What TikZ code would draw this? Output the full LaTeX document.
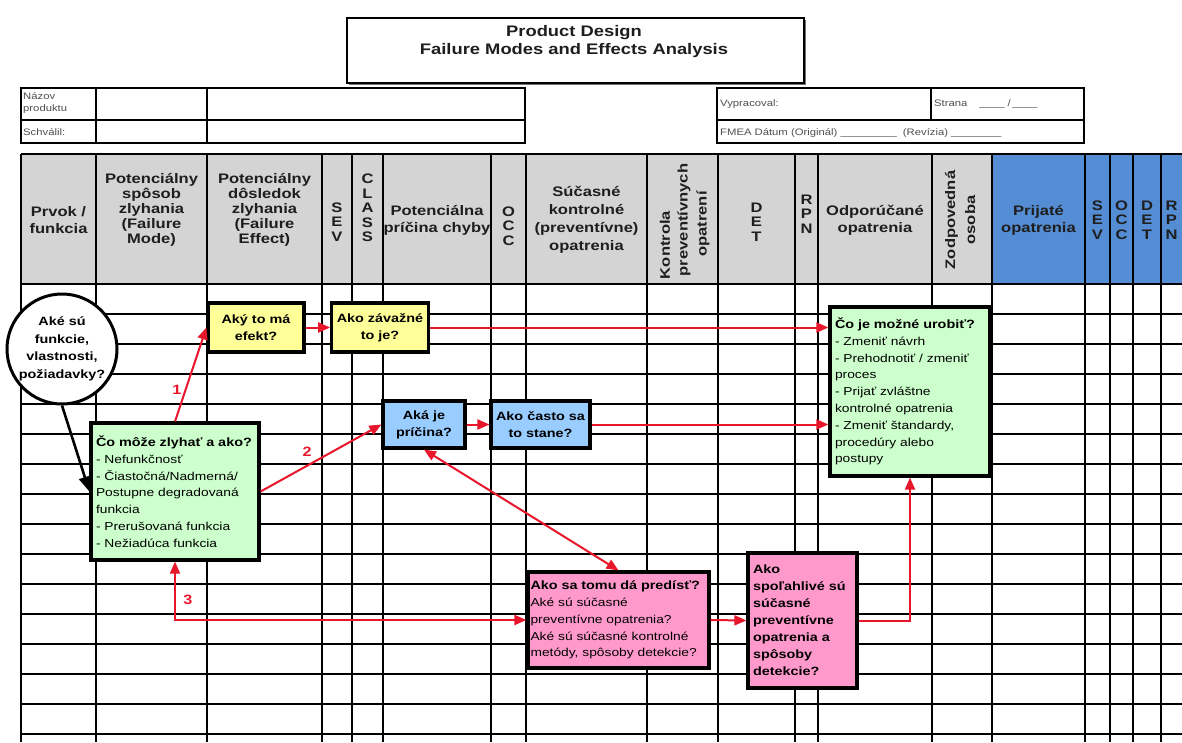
\documentclass[tikz,border=0pt]{standalone}
\usepackage{fontspec}
\setmainfont[FakeStretch=1.2]{Liberation Sans}
\usetikzlibrary{arrows.meta}

\definecolor{hdrgray}{RGB}{212,212,212}
\definecolor{hdrblue}{RGB}{84,141,212}
\definecolor{hdrtext}{RGB}{30,30,30}
\definecolor{infotext}{RGB}{80,80,80}
\definecolor{boxgreen}{RGB}{204,255,204}
\definecolor{boxyellow}{RGB}{255,255,153}
\definecolor{boxblue}{RGB}{153,204,255}
\definecolor{boxpink}{RGB}{255,153,204}
\definecolor{flowred}{RGB}{232,22,42}

\newcommand\qhead[1]{{\fontsize{12}{16.8}\selectfont\bfseries #1}}

\tikzset{
  gridline/.style={line width=2.6pt, black},
  hdr/.style={font=\fontsize{13.8}{15}\selectfont\bfseries, text=hdrtext, align=center, inner sep=0pt},
  hdrwide/.style={hdr, font=\fontsize{13.8}{17}\selectfont\bfseries},
  hdrfour/.style={hdr, font=\fontsize{13.8}{18}\selectfont\bfseries},
  letters/.style={hdr, font=\fontsize{13.8}{14.5}\selectfont\bfseries},
  info/.style={font=\fontsize{9.4}{14}\selectfont, text=infotext, anchor=west, inner sep=0pt, align=left},
  qbox/.style={draw=black, line width=3.2pt, inner xsep=5pt, inner ysep=2pt,
               font=\fontsize{11.5}{16.8}\selectfont},
  qbold/.style={qbox, font=\fontsize{12}{16.8}\selectfont\bfseries, align=center},
  tip/.tip={Triangle[length=12pt,width=10pt]},
  flow/.style={draw=flowred, line width=2pt, -tip},
  flowboth/.style={draw=flowred, line width=2pt, tip-tip},
  steplabel/.style={text=flowred, font=\fontsize{13.5}{13.5}\selectfont\bfseries, inner sep=0pt},
}

\begin{document}
\begin{tikzpicture}[x=1pt,y=-1pt]
\useasboundingbox (0,0) rectangle (1182,742);
\fill[white] (0,0) rectangle (1182,742);

% ---- title block ----
\fill[black!55] (349,20) rectangle (806,85);
\node[draw=black, line width=2pt, fill=white, minimum width=457pt, minimum height=65pt,
      inner sep=0pt, anchor=north west] (titlebox) at (346,17) {};
\node[font=\fontsize{15.3}{18}\selectfont\bfseries, align=center, text=hdrtext] (title)
      at (574,42) {Product Design\\Failure Modes and Effects Analysis};

% ---- product / approval table ----
\draw[line width=1.8pt] (21,88) rectangle (525,143);
\draw[line width=1.8pt] (21,120) -- (525,120);
\draw[line width=1.8pt] (96,88) -- (96,143);
\draw[line width=1.8pt] (207,88) -- (207,143);
\node[info, font=\fontsize{9.4}{12}\selectfont] (nazov) at (23,103) {Názov\\produktu};
\node[info] (schvalil) at (23,132) {Schválil:};

% ---- author / date table ----
\draw[line width=1.8pt] (717,88) rectangle (1084,143);
\draw[line width=1.8pt] (717,120) -- (1084,120);
\draw[line width=1.8pt] (931,88) -- (931,120);
\node[info] (vypracoval) at (720,104) {Vypracoval:};
\node[info] (strana) at (934,104) {Strana\hspace{12pt}\_\_\_\_ /\,\_\_\_\_};
\node[info] (datum) at (720,133) {FMEA Dátum (Originál) \_\_\_\_\_\_\_\_\_\hspace{6pt}(Revízia) \_\_\_\_\_\_\_\_};

% ---- column header fills ----
\fill[hdrgray] (21,154) rectangle (992,284);
\fill[hdrblue] (992,154) rectangle (1182,284);

% ---- worksheet grid ----
\foreach \y in {154,284,314,...,734}
  \draw[gridline] (21,\y) -- (1182,\y);
\foreach \x in {21,96,207,322,352,383,491,526,647,718,795,818,932,992,1085,1110,1133,1161}
  \draw[gridline] (\x,154) -- (\x,742);

% ---- column headings ----
\node[hdrwide] (hprvok) at (58.5,220) {Prvok /\\funkcia};
\node[hdr] (hmode) at (151.5,210) {Potenciálny\\spôsob\\zlyhania\\(Failure\\Mode)};
\node[hdr] (heffect) at (264.5,210) {Potenciálny\\dôsledok\\zlyhania\\(Failure\\Effect)};
\node[letters] (hsev) at (337,222) {S\\E\\V};
\node[letters] (hclass) at (367.5,208) {C\\L\\A\\S\\S};
\node[hdrwide] (hcause) at (437,220) {Potenciálna\\príčina chyby};
\node[letters] (hocc) at (508.5,226) {O\\C\\C};
\node[hdrfour] (hcontrols) at (586.5,220) {Súčasné\\kontrolné\\(preventívne)\\opatrenia};
\node[hdr, rotate=90] (hprev1) at (665,245) {Kontrola};
\node[hdr, rotate=90] (hprev2) at (684,220) {preventívnych};
\node[hdr, rotate=90] (hprev3) at (703,224) {opatrení};
\node[letters] (hdet) at (756.5,222) {D\\E\\T};
\node[letters] (hrpn) at (806.5,214) {R\\P\\N};
\node[hdrwide] (hrecomm) at (875,220) {Odporúčané\\opatrenia};
\node[hdr, rotate=90, font=\fontsize{13.8}{20}\selectfont\bfseries] (hresp) at (960,220) {Zodpovedná\\osoba};
\node[hdrwide] (htaken) at (1038.5,220) {Prijaté\\opatrenia};
\node[letters] (hsev2) at (1097.5,220) {S\\E\\V};
\node[letters] (hocc2) at (1121.5,220) {O\\C\\C};
\node[letters] (hdet2) at (1147,220) {D\\E\\T};
\node[letters] (hrpn2) at (1171.5,220) {R\\P\\N};

% ---- question boxes ----
\node[draw=black, line width=3pt, fill=white, circle, minimum size=110pt, inner sep=0pt,
      align=center, font=\fontsize{12}{17.5}\selectfont\bfseries] (circ) at (62,349)
      {Aké sú\\funkcie,\\vlastnosti,\\požiadavky?};

\node[qbox, fill=boxgreen, text width=158pt, minimum height=137pt, align=left] (fail) at (175,491.5)
  {\qhead{Čo môže zlyhať a ako?}\\- Nefunkčnosť\\- Čiastočná/Nadmerná/\\Postupne degradovaná\\funkcia\\- Prerušovaná funkcia\\- Nežiadúca funkcia};

\node[qbold, fill=boxyellow, minimum width=96pt, minimum height=49pt] (effect) at (256,327.5) {Aký to má\\efekt?};
\node[qbold, fill=boxyellow, minimum width=96pt, minimum height=49pt] (severity) at (380,327.5) {Ako závažné\\to je?};

\node[qbold, fill=boxblue, minimum width=82pt, minimum height=47pt] (cause) at (424,424.5) {Aká je\\príčina?};
\node[qbold, fill=boxblue, minimum width=97pt, minimum height=47pt] (often) at (540.5,424.5) {Ako často sa\\to stane?};

\node[qbox, fill=boxgreen, text width=150pt, minimum height=169pt, align=left] (todo) at (910,391.5)
  {\qhead{Čo je možné urobiť?}\\- Zmeniť návrh\\- Prehodnotiť / zmeniť\\proces\\- Prijať zvláštne\\kontrolné opatrenia\\- Zmeniť štandardy,\\procedúry alebo\\postupy};

\node[qbox, fill=boxpink, inner xsep=2.5pt, text width=176pt, minimum height=96pt, align=left] (prevent) at (618.5,620)
  {\qhead{Ako sa tomu dá predísť?}\\Aké sú súčasné\\preventívne opatrenia?\\Aké sú súčasné kontrolné\\metódy,~spôsoby~detekcie?};

\node[qbox, fill=boxpink, text width=99pt, minimum height=135pt, align=left,
      font=\fontsize{12}{17}\selectfont\bfseries] (reliable) at (802.5,620.5)
  {Ako\\spoľahlivé sú\\súčasné\\preventívne\\opatrenia a\\spôsoby\\detekcie?};

% ---- flow connectors ----
\draw[line width=2.6pt, -{Triangle[length=15pt,width=12pt]}] (circ.south) -- (fail.west);
\draw[flow] (fail.north) -- (effect.west);
\draw[flow] (effect.east) -- (severity.west);
\draw[flow] (severity.east) -- (severity.east -| todo.west);
\draw[flow] (fail.east) -- (cause.west);
\draw[flow] (cause.east) -- (often.west);
\draw[flow] (often.east) -- (often.east -| todo.west);
\draw[flowboth] (cause.south) -- (prevent.north);
\draw[flow] (prevent.east) -- (reliable.west);
\draw[flow] (reliable.east) -| (todo.south);
\draw[flowboth] (fail.south) |- (prevent.west);

\node[steplabel] (lab1) at (177,390) {1};
\node[steplabel] (lab2) at (307,452) {2};
\node[steplabel] (lab3) at (188,600) {3};
\end{tikzpicture}
\end{document}
